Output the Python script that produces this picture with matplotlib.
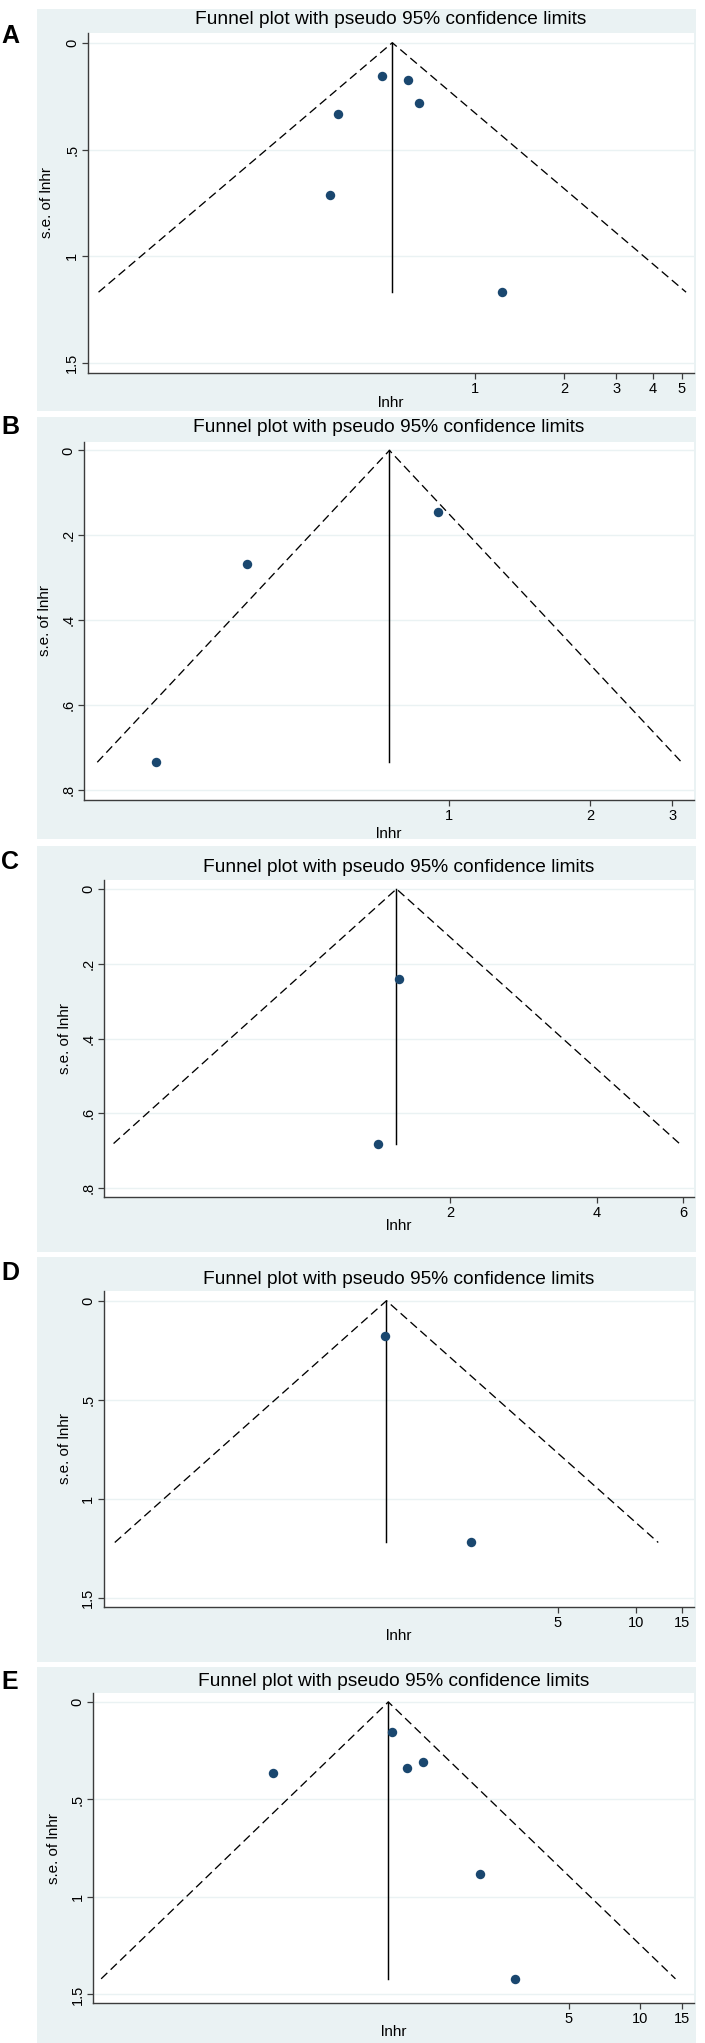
import matplotlib
matplotlib.use('Agg')
import matplotlib.pyplot as plt
import numpy as np
from matplotlib.patches import Rectangle
from matplotlib.ticker import FixedLocator, NullLocator

plt.rcParams['font.family'] = ['Liberation Sans', 'DejaVu Sans']

W, H = 705, 2043

title = 'Funnel plot with pseudo 95% confidence limits'
xlabel = 'lnhr'
ylabel = 's.e. of lnhr'
panel_labels = ['A', 'B', 'C', 'D', 'E']

# ---- data (hazard ratios on log axis, standard errors) ----
hr_A = [0.485, 0.594, 0.647, 0.342, 0.323, 1.231]
se_A = [0.158, 0.174, 0.280, 0.336, 0.712, 1.168]
pooled_A = 0.524

hr_B = [0.945, 0.369, 0.235]
se_B = [0.144, 0.268, 0.735]
pooled_B = 0.744

hr_C = [1.569, 1.421]
se_C = [0.240, 0.681]
pooled_C = 1.553

hr_D = [1.095, 2.33]
se_D = [0.177, 1.220]
pooled_D = 1.109

hr_E = [0.902, 1.04, 1.22, 0.285, 2.12, 2.97]
se_E = [0.154, 0.338, 0.308, 0.364, 0.880, 1.420]
pooled_E = 0.868

xticks_A = [1, 2, 3, 4, 5]
xticks_B = [1, 2, 3]
xticks_C = [2, 4, 6]
xticks_D = [5, 10, 15]
xticks_E = [5, 10, 15]

yticks_15 = [0, 0.5, 1, 1.5]
ylabels_15 = ['0', '.5', '1', '1.5']
yticks_08 = [0, 0.2, 0.4, 0.6, 0.8]
ylabels_08 = ['0', '.2', '.4', '.6', '.8']

# ---- layout in pixels ----
panels = [
    dict(hr=hr_A, se=se_A, mu=pooled_A, xt=xticks_A, yt=yticks_15, yl=ylabels_15,
         bg=(37, 9, 696, 411), ax=(87.7, 32.7, 694, 372.7), ty=20, ly=36,
         xlim=(0.0488, 5.50), ylim=(1.545, -0.047), xly=403, yly=47),
    dict(hr=hr_B, se=se_B, mu=pooled_B, xt=xticks_B, yt=yticks_08, yl=ylabels_08,
         bg=(37, 417, 696, 839), ax=(84, 441.5, 694, 800), ty=427, ly=427,
         xlim=(0.165, 3.34), ylim=(0.824, -0.021), xly=834, yly=45),
    dict(hr=hr_C, se=se_C, mu=pooled_C, xt=xticks_C, yt=yticks_08, yl=ylabels_08,
         bg=(37, 846, 696, 1252), ax=(103.6, 880, 694, 1197), ty=868, ly=862,
         xlim=(0.390, 6.32), ylim=(0.824, -0.024), xly=1226, yly=65),
    dict(hr=hr_D, se=se_D, mu=pooled_D, xt=xticks_D, yt=yticks_15, yl=ylabels_15,
         bg=(37, 1257, 696, 1662), ax=(103.6, 1291, 694, 1606.7), ty=1280, ly=1273,
         xlim=(0.092, 16.6), ylim=(1.544, -0.049), xly=1636, yly=65),
    dict(hr=hr_E, se=se_E, mu=pooled_E, xt=xticks_E, yt=yticks_15, yl=ylabels_15,
         bg=(37, 1667, 696, 2043), ax=(93.2, 1693, 694, 2003), ty=1682, ly=1682,
         xlim=(0.0497, 16.8), ylim=(1.544, -0.046), xly=2031.5, yly=54),
]

BG = '#EAF2F3'
NAVY = '#1A476F'
AXC = '#3C3C3C'

fig = plt.figure(figsize=(W / 100, H / 100), dpi=100)
fig.patch.set_facecolor('white')


def fx(px):
    return px / W


def fy(py):
    return 1 - py / H


for lab, p in zip(panel_labels, panels):
    bx0, by0, bx1, by1 = p['bg']
    rect = Rectangle((fx(bx0), fy(by1)), fx(bx1) - fx(bx0), fy(by0) - fy(by1),
                     transform=fig.transFigure, facecolor=BG,
                     edgecolor='none', zorder=-10)
    fig.add_artist(rect)
    ax0, ay0, ax1, ay1 = p['ax']
    ax = fig.add_axes([fx(ax0), fy(ay1), fx(ax1) - fx(ax0), fy(ay0) - fy(ay1)])
    ax.set_zorder(5)
    ax.set_facecolor('white')
    ax.set_xscale('log')
    ax.set_xlim(*p['xlim'])
    ax.set_ylim(*p['ylim'])

    for s in ['top', 'right']:
        ax.spines[s].set_visible(False)
    for s in ['left', 'bottom']:
        ax.spines[s].set_color(AXC)
        ax.spines[s].set_linewidth(1.0)

    ax.xaxis.set_major_locator(FixedLocator(p['xt']))
    ax.xaxis.set_minor_locator(NullLocator())
    ax.set_xticklabels([str(v) for v in p['xt']])
    ax.set_yticks(p['yt'])
    ax.set_yticklabels(p['yl'], rotation=90, va='center')
    ax.tick_params(axis='both', length=4, width=0.9, color=AXC, labelsize=10.5,
                   labelcolor='black', pad=2.5)
    ax.tick_params(axis='y', pad=2)
    for yv in p['yt']:
        ax.axhline(yv, color=BG, lw=1.0, zorder=0.5)

    hr = np.array(p['hr'])
    se = np.array(p['se'])
    mu = p['mu']
    semax = se.max()
    lmu = np.log(mu)
    lo = np.exp(lmu - 1.96 * semax)
    hi = np.exp(lmu + 1.96 * semax)
    ax.plot([lo, mu, hi], [semax, 0, semax], color='black', lw=0.95,
            linestyle=(0, (6.5, 3.5)), zorder=2)
    ax.plot([mu, mu], [0, semax], color='black', lw=1.05, zorder=2)
    ax.plot(hr, se, 'o', color=NAVY, markersize=6.8, markeredgewidth=0, zorder=3)

    # axis labels
    ax.set_xlabel(xlabel, fontsize=11)
    ax.set_ylabel(ylabel, fontsize=11)
    ax.xaxis.set_label_coords(0.5, (ay1 - p['xly']) / (ay1 - ay0))
    ax.xaxis.label.set_va('center')
    ax.yaxis.set_label_coords((p['yly'] - ax0) / (ax1 - ax0), 0.5)
    ax.yaxis.label.set_va('center')
    ax.yaxis.label.set_ha('center')

    fig.text(fx((ax0 + ax1) / 2), fy(p['ty']), title, ha='center', va='center',
             fontsize=13.8)
    fig.text(fx(10), fy(p['ly']), lab, ha='center', va='center', fontsize=18,
             fontweight='bold', family=['Liberation Sans Narrow', 'Liberation Sans'])

fig.savefig('out.png', dpi=100, facecolor='white')
